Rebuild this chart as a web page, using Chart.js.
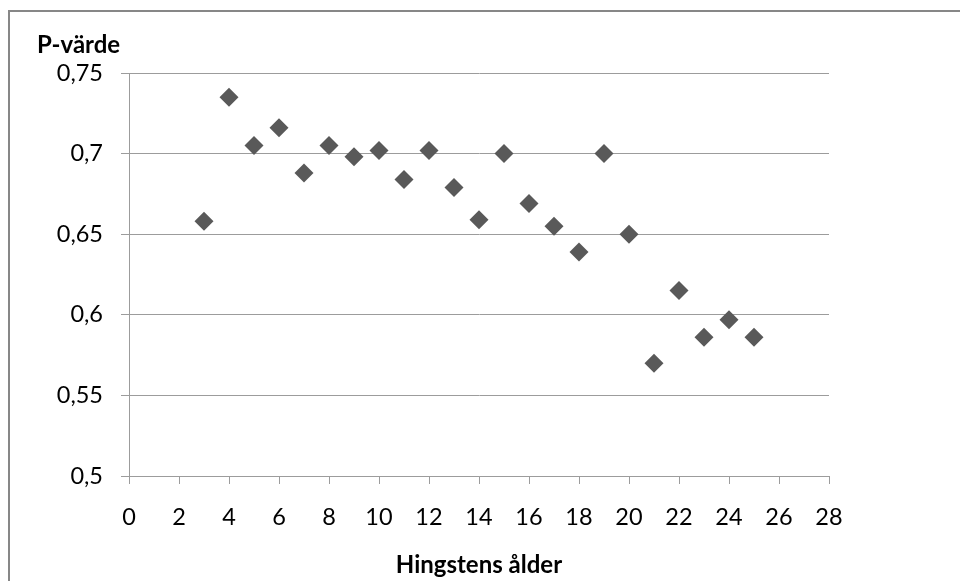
<!DOCTYPE html>
<html>
<head>
<meta charset="utf-8">
<script src="https://cdn.jsdelivr.net/npm/chart.js@4/dist/chart.umd.min.js"></script>
<style>
  html, body { margin: 0; padding: 0; background: #ffffff; }
  #wrap { position: relative; width: 960px; height: 581px; overflow: hidden; }
  #frame { position: absolute; left: 8px; top: 10px; width: 1000px; height: 700px;
           border-top: 2px solid #878787; border-left: 2px solid #878787; }
  canvas { position: absolute; left: 0; top: 0; }
</style>
</head>
<body>
<div id="wrap">
  <div id="frame"></div>
  <canvas id="c" width="960" height="581"></canvas>
</div>
<script>
// Data
const ages = [3, 4, 5, 6, 7, 8, 9, 10, 11, 12, 13, 14, 15, 16, 17, 18, 19, 20, 21, 22, 23, 24, 25];
const pValues = [0.658, 0.735, 0.705, 0.716, 0.688, 0.705, 0.698, 0.702, 0.684, 0.702, 0.679, 0.659,
                 0.700, 0.669, 0.655, 0.639, 0.700, 0.650, 0.570, 0.615, 0.586, 0.597, 0.586];
const yTitle = 'P-värde';
const xTitle = 'Hingstens ålder';
const xRange = [0, 28, 2];
const yRange = [0.5, 0.75, 0.05];

const points = ages.map((a, i) => ({ x: a, y: pValues[i] }));
const gridColor = '#9c9c9c';
const font = 'Lato, "Open Sans", sans-serif';

new Chart(document.getElementById('c'), {
  type: 'scatter',
  data: {
    datasets: [{
      data: points,
      pointStyle: 'rectRot',
      pointRadius: 9.5,
      pointHoverRadius: 9.5,
      backgroundColor: '#595959',
      borderColor: '#595959',
      borderWidth: 0
    }]
  },
  options: {
    responsive: false,
    animation: false,
    events: [],
    layout: { padding: { left: 37, right: 131, top: 24, bottom: 0 } },
    plugins: {
      legend: { display: false },
      tooltip: { enabled: false },
      title: {
        display: true,
        text: yTitle,
        align: 'start',
        color: '#000',
        font: { family: font, size: 24, weight: 'bold' },
        padding: { top: 7, bottom: 13.2 }
      }
    },
    scales: {
      x: {
        type: 'linear',
        min: xRange[0], max: xRange[1],
        afterBuildTicks: (s) => { const t = []; for (let v = xRange[0]; v <= xRange[1]; v += xRange[2]) t.push({ value: v }); s.ticks = t; },
        afterFit: (s) => { s.height = 105; },
        grid: { drawOnChartArea: false, drawTicks: true, tickLength: 8, color: gridColor },
        border: { display: true, color: gridColor, width: 1 },
        ticks: { color: '#000', font: { family: font, size: 23.5 }, padding: 19, maxRotation: 0, autoSkip: false },
        title: {
          display: true, text: xTitle, color: '#000',
          font: { family: font, size: 24, weight: 'bold' },
          padding: { top: 10, bottom: 1 }
        }
      },
      y: {
        min: yRange[0], max: yRange[1],
        afterBuildTicks: (s) => { const t = []; for (let i = 0; i <= 5; i++) t.push({ value: +(yRange[0] + i * yRange[2]).toFixed(2) }); s.ticks = t; },
        afterFit: (s) => { s.width = 92; },
        grid: { color: gridColor, tickLength: 8, drawTicks: true },
        border: { display: true, color: gridColor, width: 1 },
        ticks: {
          color: '#000', font: { family: font, size: 23.5 }, padding: 18,
          callback: (v) => String(Math.round(v * 100) / 100).replace('.', ',')
        }
      }
    }
  }
});
</script>
</body>
</html>
